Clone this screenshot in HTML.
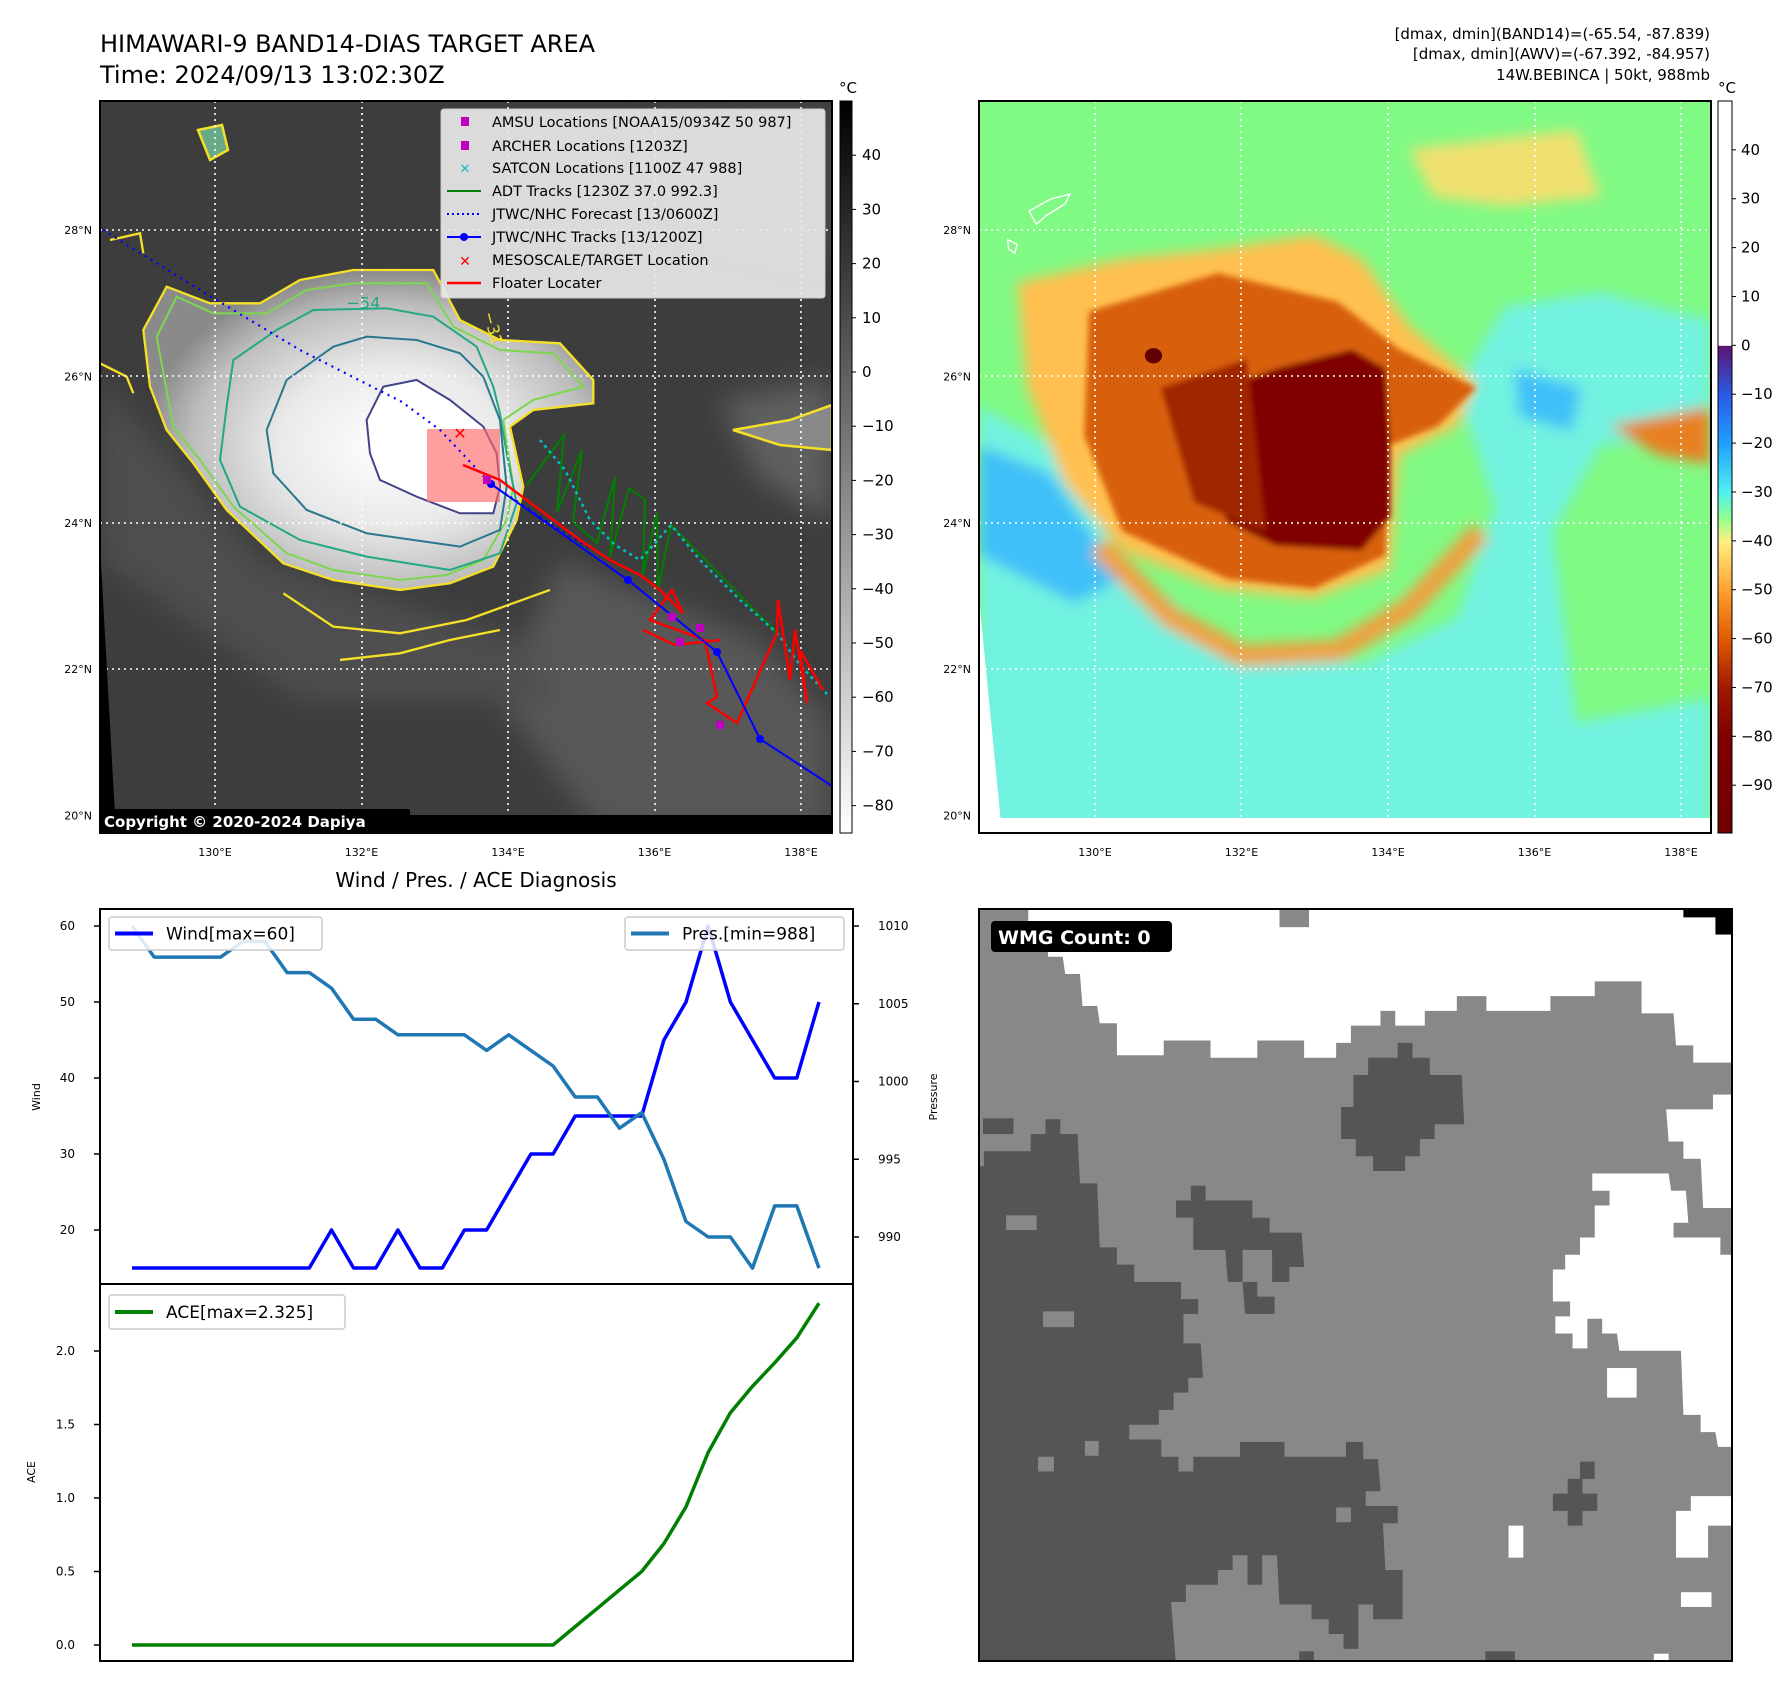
<!DOCTYPE html>
<html><head><meta charset="utf-8"><style>
body{margin:0;background:#fff;}
svg{display:block;font-family:"DejaVu Sans","Liberation Sans",sans-serif;}
</style></head><body>
<svg id="root" width="1792" height="1690" viewBox="0 0 1792 1690" xmlns="http://www.w3.org/2000/svg">
<defs>
  <linearGradient id="cbL" x1="0" y1="0" x2="0" y2="1"><stop offset="0" stop-color="#000"/><stop offset="1" stop-color="#fff"/></linearGradient>
  <linearGradient id="cbR" x1="0" y1="0" x2="0" y2="1">
    <stop offset="0" stop-color="#fff"/><stop offset="0.334" stop-color="#fff"/>
    <stop offset="0.335" stop-color="#5c1470"/><stop offset="0.401" stop-color="#2a5ae8"/>
    <stop offset="0.468" stop-color="#20a0ff"/><stop offset="0.535" stop-color="#50f0f0"/>
    <stop offset="0.57" stop-color="#90ff90"/><stop offset="0.602" stop-color="#fff080"/>
    <stop offset="0.669" stop-color="#ffa030"/><stop offset="0.736" stop-color="#e05a00"/>
    <stop offset="0.803" stop-color="#a01800"/><stop offset="0.87" stop-color="#800000"/>
    <stop offset="1" stop-color="#700000"/></linearGradient>
  <radialGradient id="cloud" cx="0.55" cy="0.55" r="0.55"><stop offset="0" stop-color="#fff"/><stop offset="0.45" stop-color="#eaeaea"/><stop offset="0.8" stop-color="#bdbdbd"/><stop offset="1" stop-color="#8a8a8a"/></radialGradient>
  <filter id="blur6"><feGaussianBlur stdDeviation="6"/></filter>
  <filter id="blur14"><feGaussianBlur stdDeviation="14"/></filter>
  <clipPath id="clipL"><rect x="100" y="101" width="732" height="732"/></clipPath>
  <clipPath id="clipR"><rect x="979" y="101" width="732" height="732"/></clipPath>
  <clipPath id="clipB"><rect x="979" y="909" width="753" height="752"/></clipPath>
</defs>

<!-- Titles -->
<text x="100" y="52" font-size="24">HIMAWARI-9 BAND14-DIAS TARGET AREA</text>
<text x="100" y="83" font-size="24">Time: 2024/09/13 13:02:30Z</text>
<g font-size="15" text-anchor="end">
  <text x="1710" y="39">[dmax, dmin](BAND14)=(-65.54, -87.839)</text>
  <text x="1710" y="59">[dmax, dmin](AWV)=(-67.392, -84.957)</text>
  <text x="1710" y="80">14W.BEBINCA | 50kt, 988mb</text>
</g>

<!-- LEFT MAP -->
<g clip-path="url(#clipL)">
  <rect x="100" y="101" width="732" height="732" fill="#3d3d3d"/>
  <g filter="url(#blur14)" opacity="0.6">
    <path d="M560 560 L760 640 L830 720 L830 830 L600 830 L500 700 Z" fill="#6a6a6a"/>
    <path d="M720 400 L832 380 L832 520 L760 480 Z" fill="#777"/>
    <path d="M100 380 L260 560 L520 640 L560 700 L300 700 L100 560 Z" fill="#5a5a5a"/>
    <path d="M640 120 L832 110 L832 260 L700 230 Z" fill="#555"/>
  </g>
  <g transform="translate(100,220) scale(0.3333)">
    <path d="M130 330 L200 200 L330 250 L480 250 L600 180 L760 150 L1000 150 L1080 300 L1200 360 L1380 370 L1480 480 L1480 550 L1300 570 L1230 620 L1270 800 L1250 900 L1180 1040 L1050 1090 L900 1110 L700 1080 L550 1030 L380 870 L280 730 L200 630 L150 500 Z" fill="url(#cloud)" stroke="#f5e028" stroke-width="7"/>
    <path d="M170 350 L230 230 L340 280 L500 280 L620 210 L760 190 L980 190 L1060 320 L1200 390 L1360 400 L1450 500 L1300 540 L1210 600 L1240 800 L1220 900 L1150 1020 L1040 1065 L900 1080 L700 1050 L560 1000 L400 860 L300 720 L220 620 Z" fill="none" stroke="#7ed650" stroke-width="6"/>
    <path d="M380 560 L400 420 L530 330 L640 270 L860 265 L1000 290 L1130 380 L1180 500 L1200 580 L1220 700 L1250 850 L1200 1000 L1050 1050 L800 1010 L600 960 L420 860 L360 720 Z" fill="none" stroke="#22a884" stroke-width="6"/>
    <path d="M500 630 L560 480 L700 380 L800 350 L950 360 L1080 400 L1150 470 L1200 600 L1220 800 L1200 930 L1080 980 L800 940 L620 870 L520 760 Z" fill="none" stroke="#2a788e" stroke-width="6"/>
    <path d="M800 600 L850 500 L950 480 L1050 540 L1150 620 L1190 700 L1200 800 L1180 880 L1080 880 L950 830 L840 780 L810 700 Z" fill="#fff" stroke="#414487" stroke-width="6"/>
    <path d="M550 1120 L700 1220 L900 1240 L1100 1200 L1350 1110" fill="none" stroke="#f5e028" stroke-width="7"/>
    <path d="M720 1320 L900 1300 L1050 1260 L1200 1230" fill="none" stroke="#f5e028" stroke-width="7"/>
    <path d="M0 430 L80 470 L100 520 M30 60 L120 40 L130 100" fill="none" stroke="#f5e028" stroke-width="7"/>
    <text x="740" y="265" font-size="48" fill="#22a884">−54</text>
    <text x="1150" y="280" font-size="48" fill="#f5e028" transform="rotate(75 1150 280)">−31</text>
  </g>
  <path d="M733 430 L790 420 L832 405 L832 450 L780 445 Z" fill="#888" stroke="#f5e028" stroke-width="2.5"/>
  <path d="M198 130 L222 125 L228 150 L210 160 Z" fill="#6a8" stroke="#f5e028" stroke-width="2.5"/>
  <g stroke="#fff" stroke-width="1.6" stroke-dasharray="2 4" fill="none">
    <line x1="215" y1="101" x2="215" y2="833"/><line x1="362" y1="101" x2="362" y2="833"/><line x1="508" y1="101" x2="508" y2="833"/><line x1="655" y1="101" x2="655" y2="833"/><line x1="801" y1="101" x2="801" y2="833"/>
    <line x1="100" y1="230" x2="832" y2="230"/><line x1="100" y1="376" x2="832" y2="376"/><line x1="100" y1="523" x2="832" y2="523"/><line x1="100" y1="669" x2="832" y2="669"/>
  </g>
  <polygon points="100,545 116,833 100,833" fill="#000"/>
  <rect x="100" y="815" width="732" height="18" fill="#000"/>
  <!-- tracks (page coords) -->
  <rect x="427" y="429" width="73" height="73" fill="#ff6a6a" opacity="0.65"/>
  <polyline points="103,230 200,290 300,350 402,402 440,430 491,484 560,530 593,550" fill="none" stroke="#0000ff" stroke-width="2.2" stroke-dasharray="2 5"/>
  <polyline points="527,485 564,435 557,512 582,450 573,522 597,543 615,477 610,557 629,488 645,500 643,575 657,513 658,590 671,525 777,633" fill="none" stroke="#008000" stroke-width="2"/>
  <polyline points="540,440 565,470 590,520 615,545 640,560 671,525 700,560 740,600 777,633 800,665 828,695" fill="none" stroke="#00c0c0" stroke-width="2.5" stroke-dasharray="3 4"/>
  <polyline points="463,465 500,480 540,510 580,540 610,560 640,575 660,590 683,613 672,590 650,620 705,640 717,697 707,703 737,723 777,633 778,600 790,680 795,630 807,703 800,650 823,690" fill="none" stroke="#ff0000" stroke-width="2.5"/>
  <polyline points="643,630 675,645 720,640" fill="none" stroke="#ff0000" stroke-width="2.5"/>
  <polyline points="491,484 628,580 717,652 760,739 832,786" fill="none" stroke="#0000ff" stroke-width="2"/>
  <g fill="#0000ff"><circle cx="491" cy="484" r="4"/><circle cx="628" cy="580" r="4"/><circle cx="717" cy="652" r="4"/><circle cx="760" cy="739" r="4"/></g>
  <g fill="#c000c0"><rect x="483" y="476" width="8" height="8"/><rect x="668" y="613" width="8" height="8"/><rect x="676" y="638" width="8" height="8"/><rect x="696" y="624" width="8" height="8"/><rect x="716" y="721" width="8" height="8"/></g>
  <text x="460" y="439" font-size="16" font-weight="bold" fill="#ff0000" text-anchor="middle">✕</text>
</g>
<rect x="100" y="101" width="732" height="732" fill="none" stroke="#000" stroke-width="2"/>
<rect x="100" y="809" width="310" height="23" fill="#000" rx="2"/>
<text x="104" y="827" font-size="15" font-weight="bold" fill="#fff">Copyright © 2020-2024 Dapiya</text>

<!-- map legend -->
<g>
  <rect x="441" y="109" width="384" height="189" rx="3" fill="#e8e8e8" fill-opacity="0.92" stroke="#ccc"/>
  <g font-size="14.5">
    <rect x="461" y="117" width="8" height="9" fill="#c000c0"/><text x="492" y="127">AMSU Locations [NOAA15/0934Z 50 987]</text>
    <rect x="461" y="141" width="8" height="9" fill="#c000c0"/><text x="492" y="151">ARCHER Locations [1203Z]</text>
    <text x="465" y="173" fill="#00c0c0" font-size="13" text-anchor="middle" font-weight="bold">✕</text><text x="492" y="173">SATCON Locations [1100Z 47 988]</text>
    <line x1="447" y1="191" x2="481" y2="191" stroke="#008000" stroke-width="2"/><text x="492" y="196">ADT Tracks [1230Z 37.0 992.3]</text>
    <line x1="447" y1="214" x2="481" y2="214" stroke="#0000ff" stroke-width="2" stroke-dasharray="2 3"/><text x="492" y="219">JTWC/NHC Forecast [13/0600Z]</text>
    <line x1="447" y1="237" x2="481" y2="237" stroke="#0000ff" stroke-width="2"/><circle cx="464" cy="237" r="4" fill="#0000ff"/><text x="492" y="242">JTWC/NHC Tracks [13/1200Z]</text>
    <text x="465" y="266" fill="#ff0000" font-size="14" text-anchor="middle" font-weight="bold">✕</text><text x="492" y="265">MESOSCALE/TARGET Location</text>
    <line x1="447" y1="283" x2="481" y2="283" stroke="#ff0000" stroke-width="2.5"/><text x="492" y="288">Floater Locater</text>
  </g>
</g>

<!-- left colorbar -->
<rect x="840" y="101" width="12" height="732" fill="url(#cbL)" stroke="#000"/>
<text x="848" y="93" font-size="15" text-anchor="middle">°C</text>
<g id="cbLticks" font-size="15"></g>

<!-- RIGHT MAP -->
<g clip-path="url(#clipR)">
  <rect x="979" y="101" width="732" height="732" fill="#80fa84"/>
  <g transform="translate(979,101) scale(0.478)">
    <g filter="url(#blur14)">
      <path d="M0 640 L150 720 L300 960 L500 1130 L800 1180 L1000 1080 L1080 850 L1000 600 L1100 430 L1300 400 L1530 460 L1530 700 L1300 720 L1200 900 L1250 1300 L1530 1250 L1530 1560 L0 1560 Z" fill="#72f2e0"/>
      <path d="M0 720 L150 780 L300 1000 L200 1050 L0 950 Z" fill="#40c0f8"/>
      <path d="M1120 560 L1260 600 L1240 690 L1130 660 Z" fill="#40c0f8"/>
      <path d="M900 100 L1250 60 L1300 200 L1100 220 L950 200 Z" fill="#f0e070"/>
      <path d="M80 380 L300 330 L500 310 L700 280 L800 330 L900 470 L1040 590 L1000 680 L880 740 L870 850 L860 980 L700 1040 L500 1020 L300 940 L180 800 L100 600 Z" fill="#ffc050"/>
      <path d="M1320 680 L1530 640 L1530 760 L1420 740 Z" fill="#e88020"/>
      <path d="M250 930 L400 1080 L550 1160 L750 1150 L900 1060 L1050 900" fill="none" stroke="#f0a040" stroke-width="45"/>
    </g>
    <g filter="url(#blur6)">
      <path d="M230 440 L500 360 L750 420 L880 520 L1040 600 L960 680 L860 720 L850 950 L700 1020 L520 1000 L300 900 L220 700 Z" fill="#d86010"/>
      <path d="M460 620 L620 560 L780 520 L850 560 L860 700 L860 870 L800 940 L620 930 L520 880 L460 760 Z" fill="#800000"/>
      <path d="M380 600 L560 540 L600 900 L450 840 Z" fill="#a02800"/>
    </g>
    <ellipse cx="365" cy="533" rx="18" ry="16" fill="#600000"/>
    <polygon points="0,1040 45,1500 0,1500" fill="#fff"/>
    <rect x="0" y="1500" width="1540" height="60" fill="#fff"/>
    <path d="M105 230 L150 205 L190 195 L180 215 L140 240 L120 258 Z M60 290 L80 300 L75 318 L62 310 Z" fill="none" stroke="#fff" stroke-width="3"/>
  </g>
  <g stroke="#fff" stroke-width="1.6" stroke-dasharray="2 4">
    <line x1="1095" y1="101" x2="1095" y2="833"/><line x1="1241" y1="101" x2="1241" y2="833"/><line x1="1388" y1="101" x2="1388" y2="833"/><line x1="1535" y1="101" x2="1535" y2="833"/><line x1="1681" y1="101" x2="1681" y2="833"/>
    <line x1="979" y1="230" x2="1711" y2="230"/><line x1="979" y1="376" x2="1711" y2="376"/><line x1="979" y1="523" x2="1711" y2="523"/><line x1="979" y1="669" x2="1711" y2="669"/>
  </g>
</g>
<rect x="979" y="101" width="732" height="732" fill="none" stroke="#000" stroke-width="2"/>
<rect x="1718" y="101" width="14" height="732" fill="url(#cbR)" stroke="#000"/>
<text x="1727" y="93" font-size="15" text-anchor="middle">°C</text>
<g id="cbRticks" font-size="15"></g>
<g id="mapTicks" font-size="11"></g>

<!-- WIND/PRES/ACE CHART -->
<text x="476" y="887" font-size="20" text-anchor="middle">Wind / Pres. / ACE Diagnosis</text>
<g id="chart"></g>

<!-- BOTTOM RIGHT MOSAIC -->
<g clip-path="url(#clipB)">
  <rect x="979" y="909" width="753" height="752" fill="#888"/>
  <g transform="translate(979,905) scale(0.4926)">
    <g fill="#fff">
      <polygon points="100,0 1430,0 1430,25 1495,25 1495,55 1530,55 1535,320 1450,320 1450,285 1415,285 1410,220 1345,220 1345,155 1250,155 1250,185 1160,185 1160,215 1030,215 1030,185 970,185 970,215 905,215 905,245 845,245 845,215 815,215 815,245 755,245 755,280 725,280 725,310 660,310 660,275 565,275 565,310 470,310 470,275 375,275 375,305 280,305 280,240 245,240 240,205 210,205 205,140 175,140 170,105 140,105 140,90 100,90"/>
      <polygon points="1245,545 1400,545 1405,580 1435,580 1440,645 1410,645 1410,675 1505,675 1505,710 1535,710 1535,1100 1500,1100 1495,1070 1465,1070 1465,1035 1430,1035 1425,905 1300,905 1295,870 1265,870 1265,840 1235,840 1235,900 1205,900 1205,870 1170,870 1170,835 1200,835 1200,805 1165,805 1165,740 1190,740 1190,710 1220,710 1220,675 1250,675 1250,610 1280,610 1280,580 1245,580"/>
      <polygon points="1395,415 1490,415 1490,385 1535,385 1535,615 1470,615 1465,515 1430,515 1430,480 1400,480"/>
      <rect x="1075" y="1260" width="30" height="65"/><rect x="1415" y="1230" width="65" height="95"/><rect x="1445" y="1200" width="90" height="60"/>
      <rect x="1425" y="1395" width="62" height="30"/><rect x="1275" y="940" width="60" height="60"/><rect x="1370" y="1520" width="30" height="25"/>
    </g>
    <rect x="610" y="0" width="60" height="45" fill="#888"/>
    <g fill="#555">
      <polygon points="0,530 10,530 10,500 105,500 105,465 135,465 135,435 165,435 165,465 200,465 205,565 240,565 245,695 280,695 280,730 315,730 315,765 410,765 410,800 445,800 445,830 415,830 415,890 450,890 455,960 425,960 425,990 395,990 395,1025 365,1025 365,1055 305,1055 305,1085 370,1085 370,1120 405,1120 405,1150 435,1150 435,1120 530,1120 530,1090 620,1090 620,1120 745,1120 745,1090 780,1090 780,1125 810,1125 815,1190 785,1190 785,1220 850,1220 850,1255 820,1255 825,1350 860,1350 860,1450 800,1450 800,1420 770,1420 770,1510 740,1510 740,1480 710,1480 710,1450 675,1450 675,1420 610,1420 605,1320 575,1320 575,1380 545,1380 545,1320 515,1320 515,1350 485,1350 485,1380 420,1380 420,1415 390,1415 400,1545 0,1545"/>
      <polygon points="850,280 880,280 880,310 915,310 915,345 980,345 985,445 925,445 925,475 895,475 895,510 865,510 865,540 800,540 800,510 765,510 765,475 735,475 735,410 760,410 760,345 790,345 790,310 850,310"/>
      <polygon points="430,570 460,570 460,600 555,600 555,635 590,635 590,665 655,665 660,735 630,735 630,765 595,765 595,700 535,700 535,765 565,765 565,795 600,795 600,830 540,830 535,765 505,765 500,700 435,700 435,635 400,635 400,600 430,600"/>
      <rect x="8" y="433" width="62" height="32"/><rect x="1220" y="1130" width="30" height="35"/><rect x="1195" y="1165" width="30" height="95"/><rect x="1165" y="1195" width="90" height="35"/>
      <rect x="650" y="1515" width="30" height="30"/><rect x="1028" y="1515" width="60" height="30"/>
    </g>
    <g fill="#888"><rect x="55" y="630" width="62" height="30"/><rect x="130" y="825" width="63" height="32"/><rect x="215" y="1088" width="28" height="30"/><rect x="120" y="1120" width="32" height="30"/><rect x="725" y="1223" width="30" height="30"/><rect x="425" y="960" width="30" height="30"/></g>
    <g fill="#000"><rect x="1430" y="0" width="110" height="25"/><rect x="1495" y="0" width="40" height="60"/></g>
  </g>
</g>
<rect x="979" y="909" width="753" height="752" fill="none" stroke="#000" stroke-width="2"/>
<rect x="991" y="921" width="181" height="31" rx="4" fill="#000"/>
<text x="998" y="944" font-size="19" font-weight="bold" fill="#fff">WMG Count: 0</text>

<script>
// ---- chart data ----
const windValues = [15,15,15,15,15,15,15,15,15,20,15,15,20,15,15,20,20,25,30,30,35,35,35,35,45,50,60,50,45,40,40,50];
const presValues = [1010,1008,1008,1008,1008,1009,1009,1007,1007,1006,1004,1004,1003,1003,1003,1003,1002,1003,1002,1001,999,999,997,998,995,991,990,990,988,992,992,988];
const aceValues = [0,0,0,0,0,0,0,0,0,0,0,0,0,0,0,0,0,0,0,0,0.125,0.25,0.375,0.5,0.69,0.94,1.31,1.58,1.76,1.92,2.09,2.325];
const windTicks = [20,30,40,50,60];
const presTicks = [990,995,1000,1005,1010];
const aceTicks = [0.0,0.5,1.0,1.5,2.0];
const irTicks = [40,30,20,10,0,-10,-20,-30,-40,-50,-60,-70,-80];
const awvTicks = [40,30,20,10,0,-10,-20,-30,-40,-50,-60,-70,-80,-90];
const lonTicks = [130,132,134,136,138];
const latTicks = [28,26,24,22,20];

const NS='http://www.w3.org/2000/svg';
function mk(tag, attrs, parent){const e=document.createElementNS(NS,tag);for(const k in attrs)e.setAttribute(k,attrs[k]);parent.appendChild(e);return e;}
const fmt=v=>(v<0?'\u2212'+Math.abs(v):''+v);

const xScale=i=>132+i*(819-132)/(windValues.length-1);
const yWind=v=>926+(60-v)*(1230-926)/40;
const yPres=v=>926+(1010-v)*(1237-926)/20;
const yAce=v=>1645-v*(1645-1351)/2;

const chart=document.getElementById('chart');
// axes boxes
let b=mk('rect',{x:100,y:909,width:753,height:375,fill:'none',stroke:'#000','stroke-width':2},chart);


b=mk('rect',{x:100,y:1284,width:753,height:377,fill:'none',stroke:'#000','stroke-width':2},chart);



windTicks.forEach(v=>{const y=yWind(v);mk('line',{x1:94,y1:y,x2:100,y2:y,stroke:'#000','stroke-width':1.5},chart);
 const t=mk('text',{x:75,y:y+4,'font-size':12,'text-anchor':'end'},chart);t.textContent=v;
 
 });
presTicks.forEach(v=>{const y=yPres(v);mk('line',{x1:853,y1:y,x2:859,y2:y,stroke:'#000','stroke-width':1.5},chart);
 const t=mk('text',{x:878,y:y+4,'font-size':12},chart);t.textContent=v;
 
 });
aceTicks.forEach(v=>{const y=yAce(v);mk('line',{x1:94,y1:y,x2:100,y2:y,stroke:'#000','stroke-width':1.5},chart);
 const t=mk('text',{x:75,y:y+4,'font-size':12,'text-anchor':'end'},chart);t.textContent=v.toFixed(1);
 
 });
let lab=mk('text',{x:0,y:0,'font-size':11,'text-anchor':'middle',transform:'translate(40,1097) rotate(-90)'},chart);lab.textContent='Wind';


lab=mk('text',{x:0,y:0,'font-size':11,'text-anchor':'middle',transform:'translate(937,1097) rotate(-90)'},chart);lab.textContent='Pressure';


lab=mk('text',{x:0,y:0,'font-size':11,'text-anchor':'middle',transform:'translate(35,1472) rotate(-90)'},chart);lab.textContent='ACE';



function line(vals, yf, color, name){
  const p=mk('polyline',{points:vals.map((v,i)=>xScale(i).toFixed(1)+','+yf(v).toFixed(1)).join(' '),fill:'none',stroke:color,'stroke-width':3.5,'stroke-linejoin':'round'},chart);
  
  
}
line(windValues,yWind,'#0000ff','wind-line');
line(presValues,yPres,'#1f77b4','pressure-line');
line(aceValues,yAce,'#008000','ace-line');

function legend(x,y,w,h,color,label,name){
  const g=mk('g',{},chart);
  
  
  mk('rect',{x:x,y:y,width:w,height:h,rx:3,fill:'#fff','fill-opacity':0.85,stroke:'#ccc','stroke-width':1.5},g);
  mk('line',{x1:x+6,y1:y+h/2,x2:x+44,y2:y+h/2,stroke:color,'stroke-width':4},g);
  const t=mk('text',{x:x+57,y:y+h/2+6,'font-size':17},g);t.textContent=label;
}
legend(109,917,213,33,'#0000ff','Wind[max=60]','wind-legend');
legend(625,917,219,33,'#1f77b4','Pres.[min=988]','pressure-legend');
legend(109,1295,236,34,'#008000','ACE[max=2.325]','ace-legend');

// colorbar ticks
const cL=document.getElementById('cbLticks');
irTicks.forEach(v=>{const y=101+(50-v)*5.42;mk('line',{x1:852,y1:y,x2:856,y2:y,stroke:'#000'},cL);
 const t=mk('text',{x:862,y:y+5},cL);t.textContent=fmt(v);
 
 });
const cR=document.getElementById('cbRticks');
awvTicks.forEach(v=>{const y=101+(50-v)*4.887;mk('line',{x1:1732,y1:y,x2:1736,y2:y,stroke:'#000'},cR);
 const t=mk('text',{x:1741,y:y+5},cR);t.textContent=fmt(v);
 
 });
// map ticks
const mt=document.getElementById('mapTicks');
[[100,215],[979,1095]].forEach(([left,lon0])=>{
  lonTicks.forEach(l=>{const t=mk('text',{x:lon0+(l-130)*73.25,y:856,'text-anchor':'middle'},mt);t.textContent=l+'°E';
   
   });
  latTicks.forEach(l=>{const y=230+(28-l)*73.2;const t=mk('text',{x:left-8,y:y+4,'text-anchor':'end'},mt);t.textContent=l+'°N';
   
   });
});
</script>
</svg>
</body></html>
